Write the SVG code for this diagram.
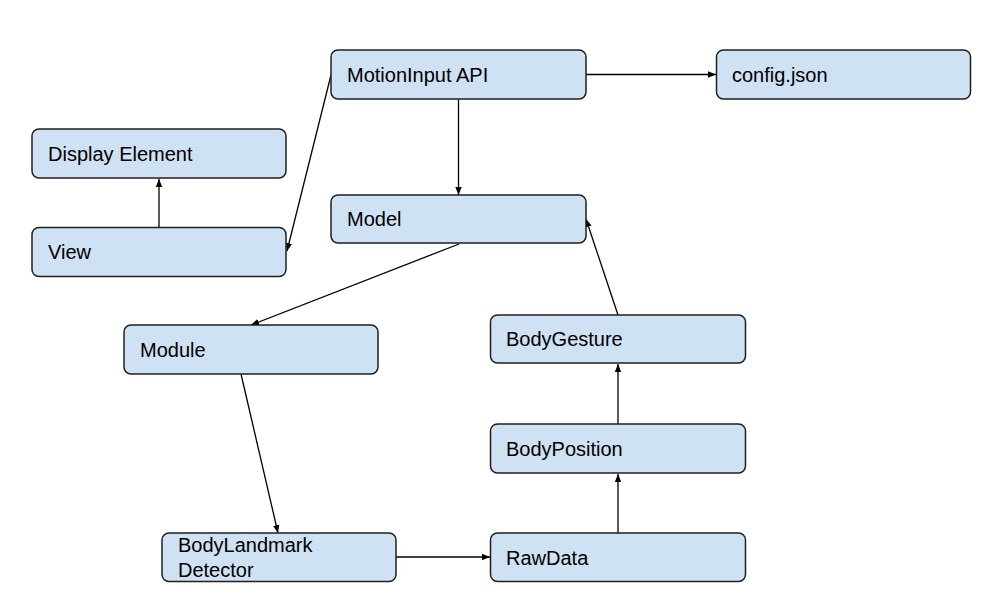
<svg xmlns="http://www.w3.org/2000/svg" width="1001" height="594" viewBox="0 0 1001 594">
<style>
.n rect{fill:#cfe2f3;stroke:#1f1f1f;stroke-width:1.5}
.n text{font-family:"Liberation Sans",Arial,sans-serif;font-size:20px;fill:#000}
.c line{stroke:#000;stroke-width:1.3;fill:none;marker-end:url(#a)}
</style>
<defs>
<marker id="a" viewBox="0 0 10 10" refX="10" refY="5" markerWidth="8" markerHeight="8" markerUnits="userSpaceOnUse" orient="auto">
<path d="M0,1 L10,5 L0,9 Z" fill="#000"/>
</marker>
</defs>
<rect width="1001" height="594" fill="#fff"/>
<g class="c">
<line x1="585" y1="74.5" x2="716" y2="74.5"/>
<line x1="458.5" y1="99" x2="458.5" y2="195"/>
<line x1="331" y1="75" x2="287" y2="251"/>
<line x1="159" y1="227" x2="159" y2="179"/>
<line x1="459" y1="244" x2="251" y2="325"/>
<line x1="241" y1="374" x2="278" y2="533"/>
<line x1="396" y1="557" x2="490" y2="557"/>
<line x1="618" y1="533" x2="618" y2="474"/>
<line x1="618" y1="424" x2="618" y2="364"/>
<line x1="618" y1="315" x2="586" y2="219"/>
</g>
<g id="motioninput" class="n"><rect x="331" y="50" width="255" height="49" rx="7"/><text x="347" y="82">MotionInput API</text></g>
<g id="config" class="n"><rect x="716.5" y="50" width="254" height="49" rx="7"/><text x="732" y="82">config.json</text></g>
<g id="display" class="n"><rect x="32" y="129" width="254" height="49" rx="7"/><text x="48" y="161">Display Element</text></g>
<g id="view" class="n"><rect x="32" y="227.5" width="254" height="49" rx="7"/><text x="48" y="259">View</text></g>
<g id="model" class="n"><rect x="331" y="195" width="255" height="48" rx="7"/><text x="347" y="226">Model</text></g>
<g id="module" class="n"><rect x="124" y="325" width="254" height="49" rx="7"/><text x="140" y="357">Module</text></g>
<g id="bodygesture" class="n"><rect x="490.5" y="315" width="255" height="48" rx="7"/><text x="506" y="346">BodyGesture</text></g>
<g id="bodyposition" class="n"><rect x="490.5" y="424" width="255" height="49" rx="7"/><text x="506" y="456">BodyPosition</text></g>
<g id="rawdata" class="n"><rect x="490.5" y="533" width="255" height="48.5" rx="7"/><text x="506" y="565">RawData</text></g>
<g id="landmark" class="n"><rect x="162" y="533" width="234" height="48.5" rx="7"/><text x="178" y="552">BodyLandmark</text><text x="178" y="577">Detector</text></g>
</svg>
